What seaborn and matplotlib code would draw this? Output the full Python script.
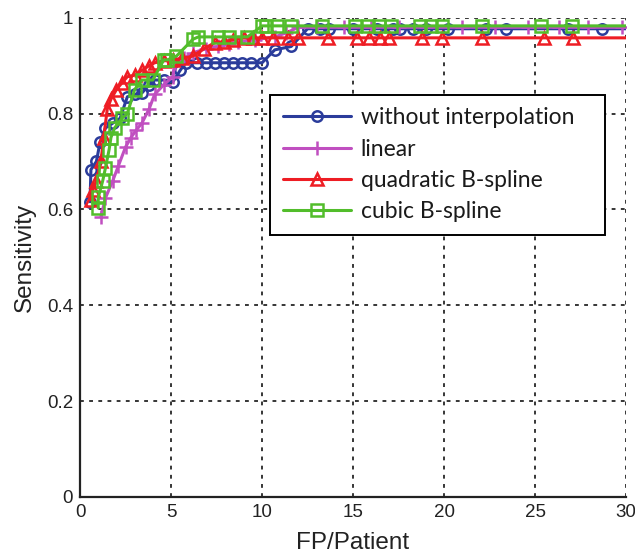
import matplotlib
matplotlib.use("Agg")
import matplotlib.pyplot as plt
import seaborn as sns
import pandas as pd

# Operating points (FP per patient, sensitivity) for each interpolation method
fp_none = [0.55, 0.6, 0.9, 1.1, 1.4, 1.8, 2.2, 2.6, 3.0, 3.4, 3.8, 4.1, 4.6, 5.1, 5.5,
           5.8, 6.4, 6.9, 7.4, 7.9, 8.4, 8.9, 9.4, 10.0, 10.7, 11.6, 12.5, 13.2, 13.7,
           15.0, 16.3, 17.2, 17.6, 18.3, 19.0, 20.2, 22.3, 23.4, 26.8, 28.7, 31.0]
sens_none = [0.616, 0.683, 0.70, 0.74, 0.77, 0.78, 0.79, 0.835, 0.84, 0.843, 0.86, 0.87,
             0.87, 0.866, 0.89, 0.906, 0.906, 0.906, 0.906, 0.906, 0.906, 0.906, 0.906,
             0.906, 0.933, 0.94, 0.977, 0.977, 0.977, 0.977, 0.977, 0.977, 0.977, 0.977,
             0.977, 0.977, 0.977, 0.977, 0.977, 0.977, 0.977]

fp_linear = [1.15, 1.4, 1.8, 2.1, 2.5, 2.8, 3.1, 3.4, 3.8, 4.1, 4.6, 5.1, 5.2, 5.7, 6.2,
             6.9, 7.6, 8.2, 8.7, 9.6, 10.7, 11.3, 12.0, 13.0, 14.5, 16.0, 17.5, 19.0,
             21.0, 22.8, 24.6, 26.3, 27.9, 29.8, 31.0]
sens_linear = [0.585, 0.624, 0.66, 0.69, 0.73, 0.75, 0.766, 0.78, 0.81, 0.84, 0.86, 0.877,
               0.906, 0.915, 0.927, 0.935, 0.94, 0.945, 0.95, 0.954, 0.96, 0.968, 0.98,
               0.98, 0.98, 0.98, 0.98, 0.98, 0.98, 0.98, 0.98, 0.98, 0.98, 0.98, 0.98]

fp_quad = [0.6, 0.7, 0.9, 1.15, 1.3, 1.5, 1.7, 2.0, 2.3, 2.6, 3.0, 3.4, 3.8, 4.1, 4.6,
           5.1, 5.6, 6.2, 6.8, 7.4, 7.9, 8.4, 9.0, 9.5, 10.0, 10.6, 11.4, 12.0, 13.6,
           15.2, 15.9, 16.5, 17.0, 18.8, 19.9, 22.1, 25.5, 27.1, 31.0]
sens_quad = [0.62, 0.64, 0.66, 0.70, 0.75, 0.81, 0.83, 0.85, 0.864, 0.877, 0.88, 0.89,
             0.90, 0.906, 0.91, 0.912, 0.915, 0.92, 0.935, 0.948, 0.95, 0.954, 0.958,
             0.958, 0.958, 0.958, 0.958, 0.958, 0.958, 0.958, 0.958, 0.958, 0.958, 0.958,
             0.958, 0.958, 0.958, 0.958, 0.958]

fp_cubic = [1.0, 1.0, 1.25, 1.4, 1.6, 1.7, 1.9, 2.3, 2.6, 3.0, 3.4, 4.0, 4.6, 4.8, 5.3,
            6.2, 6.5, 7.6, 8.2, 9.2, 10.0, 10.2, 10.8, 11.6, 13.3, 15.1, 15.8, 16.4,
            17.1, 18.7, 19.3, 19.9, 22.1, 25.3, 27.0, 31.0]
sens_cubic = [0.603, 0.625, 0.66, 0.687, 0.725, 0.75, 0.77, 0.79, 0.80, 0.85, 0.87, 0.87,
              0.912, 0.912, 0.92, 0.955, 0.96, 0.96, 0.96, 0.96, 0.983, 0.983, 0.983,
              0.983, 0.983, 0.983, 0.983, 0.983, 0.983, 0.983, 0.983, 0.983, 0.983,
              0.983, 0.983, 0.983]

method_names = ["without interpolation", "linear", "quadratic B-spline", "cubic B-spline"]
x_ticks = [0, 5, 10, 15, 20, 25, 30]
y_ticks = [0, 0.2, 0.4, 0.6, 0.8, 1.0]
y_tick_labels = ["0", "0.2", "0.4", "0.6", "0.8", "1"]

sns.set_style("white")
plt.rcParams["font.family"] = ["Liberation Sans", "DejaVu Sans"]

fig = plt.figure(figsize=(6.35, 5.54), dpi=100)
ax = fig.add_axes([0.126, 0.103, 0.860, 0.865])

series = [
    (fp_none, sens_none, "#2b3c9b", "o", 7.5, "none"),
    (fp_linear, sens_linear, "#c04fc0", "+", 10, None),
    (fp_quad, sens_quad, "#ee1d24", "^", 8, "none"),
    (fp_cubic, sens_cubic, "#52bd2b", "s", 9, "none"),
]

for name, (xs, ys, color, mk, ms, mfc) in zip(method_names, series):
    df = pd.DataFrame({"fp": xs, "sens": ys})
    kw = dict(marker=mk, markersize=ms, markeredgewidth=1.8,
              markeredgecolor=color, linewidth=2.2)
    if mfc is not None:
        kw["markerfacecolor"] = mfc
    sns.lineplot(data=df, x="fp", y="sens", color=color, label=name,
                 estimator=None, sort=False, ax=ax, **kw)

ax.set_xlim(0, 30)
ax.set_ylim(0, 1)
ax.set_xticks(x_ticks)
ax.set_yticks(y_ticks)
ax.set_yticklabels(y_tick_labels)

ax.grid(True, color="black", linestyle=(0, (2.5, 3.5)), linewidth=1.1)
for side in ["top", "right"]:
    ax.spines[side].set_visible(False)
for side in ["left", "bottom"]:
    ax.spines[side].set_color("#222222")
    ax.spines[side].set_linewidth(1.6)

ax.tick_params(axis="both", direction="in", length=4, width=1, colors="#222222",
               labelsize=13.5, pad=5)
ax.set_xlabel("FP/Patient", fontsize=17.5, color="#222222", labelpad=8)
ax.set_ylabel("Sensitivity", fontsize=17.5, color="#222222", labelpad=8)

leg = ax.legend(loc="upper left", bbox_to_anchor=(0.348, 0.541, 0.614, 0.298),
                mode="expand", frameon=True,
                fancybox=False, edgecolor="black", framealpha=1,
                prop={"family": ["Lato", "DejaVu Sans"], "size": 16.5},
                handlelength=3.0, handletextpad=0.4, labelspacing=0.45,
                borderpad=0.55, borderaxespad=0)
leg.get_frame().set_linewidth(1.4)
for t in leg.get_texts():
    t.set_color("#1a1a1a")

fig.savefig("out.png", dpi=100)
